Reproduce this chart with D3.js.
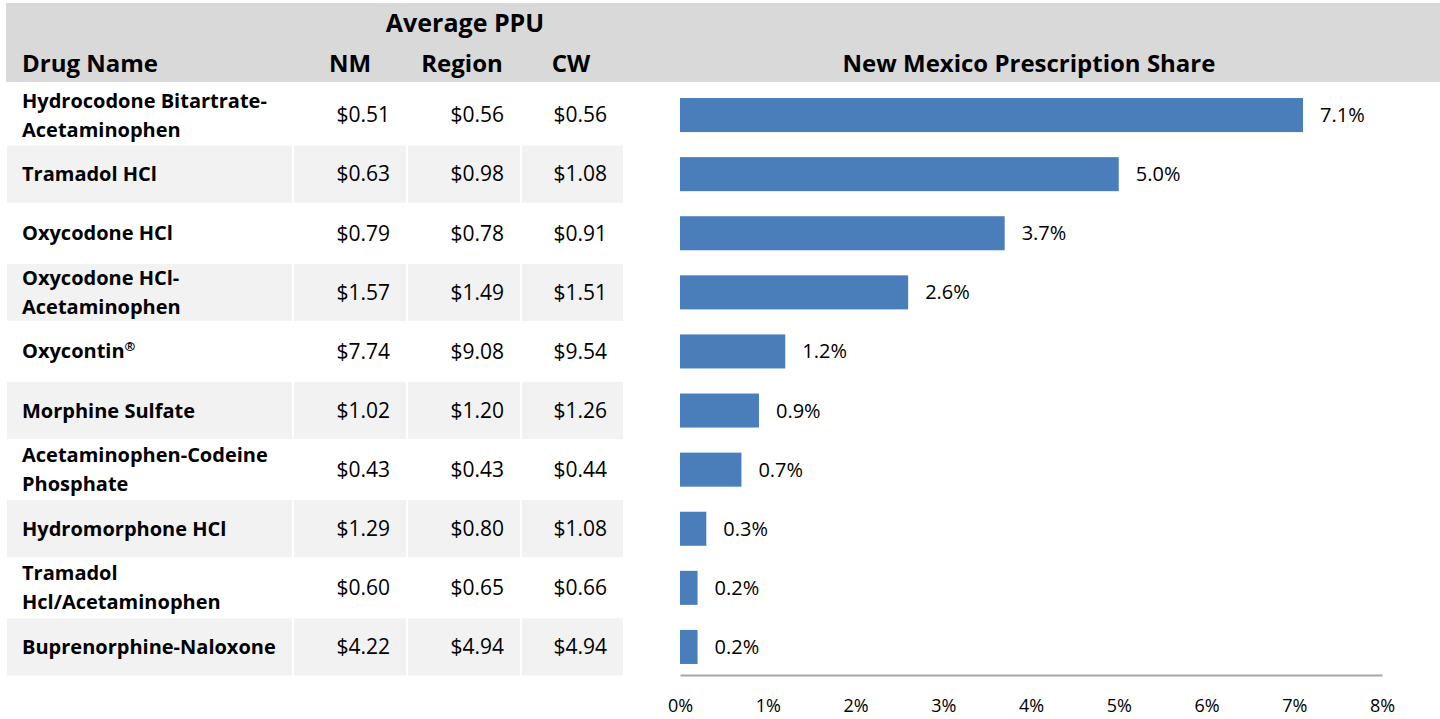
<!DOCTYPE html>
<html>
<head>
<meta charset="utf-8">
<script src="https://cdn.jsdelivr.net/npm/d3@7"></script>
<style>
  body { margin: 0; background: #fff; }
  svg { font-family: "Open Sans", sans-serif; }
</style>
</head>
<body>
<div id="chart"></div>
<script>
const drugs = [
  "Hydrocodone Bitartrate-Acetaminophen", "Tramadol HCl", "Oxycodone HCl",
  "Oxycodone HCl-Acetaminophen", "Oxycontin®", "Morphine Sulfate",
  "Acetaminophen-Codeine Phosphate", "Hydromorphone HCl",
  "Tramadol Hcl/Acetaminophen", "Buprenorphine-Naloxone"
];
const drugLines = [
  ["Hydrocodone Bitartrate-", "Acetaminophen"], ["Tramadol HCl"], ["Oxycodone HCl"],
  ["Oxycodone HCl-", "Acetaminophen"], ["Oxycontin®"], ["Morphine Sulfate"],
  ["Acetaminophen-Codeine", "Phosphate"], ["Hydromorphone HCl"],
  ["Tramadol", "Hcl/Acetaminophen"], ["Buprenorphine-Naloxone"]
];
const ppuNM     = [0.51, 0.63, 0.79, 1.57, 7.74, 1.02, 0.43, 1.29, 0.60, 4.22];
const ppuRegion = [0.56, 0.98, 0.78, 1.49, 9.08, 1.20, 0.43, 0.80, 0.65, 4.94];
const ppuCW     = [0.56, 1.08, 0.91, 1.51, 9.54, 1.26, 0.44, 1.08, 0.66, 4.94];
const share     = [7.1, 5.0, 3.7, 2.6, 1.2, 0.9, 0.7, 0.3, 0.2, 0.2];
const shareTicks = [0, 1, 2, 3, 4, 5, 6, 7, 8];

const W = 1440, H = 719;
const svg = d3.select("#chart").append("svg")
  .attr("width", W).attr("height", H);

// header band
svg.append("rect")
  .attr("x", 6).attr("y", 3).attr("width", W - 6).attr("height", 79)
  .attr("fill", "#d9d9d9");

// table columns (left edge, right edge)
const cols = [
  { x0: 7, x1: 292 },
  { x0: 294, x1: 406, values: ppuNM, head: "NM", cx: 350 },
  { x0: 408, x1: 520, values: ppuRegion, head: "Region", cx: 462 },
  { x0: 522, x1: 623, values: ppuCW, head: "CW", cx: 571 }
];

svg.append("text")
  .attr("x", 465).attr("y", 32)
  .attr("text-anchor", "middle")
  .attr("font-size", 25).attr("font-weight", "bold")
  .text("Average PPU");

svg.append("text")
  .attr("x", 22).attr("y", 72)
  .attr("font-size", 24).attr("font-weight", "bold")
  .text("Drug Name");

cols.slice(1).forEach(c => {
  svg.append("text")
    .attr("x", c.cx).attr("y", 72)
    .attr("text-anchor", "middle")
    .attr("font-size", 24).attr("font-weight", "bold")
    .text(c.head);
});

svg.append("text")
  .attr("x", 1029).attr("y", 72)
  .attr("text-anchor", "middle")
  .attr("font-size", 24).attr("font-weight", "bold")
  .text("New Mexico Prescription Share");

// rows
const y = d3.scaleBand().domain(drugs).range([85.5, 676.5]);
const fmt = d3.format("$.2f");

const rows = svg.selectAll(".row")
  .data(drugs)
  .enter().append("g")
  .attr("class", "row")
  .attr("transform", d => `translate(0,${y(d)})`);

rows.each(function(d, i) {
  const g = d3.select(this);
  if (i % 2 === 1) {
    cols.forEach(c => {
      g.append("rect")
        .attr("x", c.x0).attr("y", 1)
        .attr("width", c.x1 - c.x0).attr("height", y.bandwidth() - 2)
        .attr("fill", "#f2f2f2");
    });
  }
  const mid = y.bandwidth() / 2;
  const lines = drugLines[i];
  const lh = 29;
  lines.forEach((t, j) => {
    const txt = g.append("text")
      .attr("x", 22)
      .attr("y", mid + (j - (lines.length - 1) / 2) * lh)
      .attr("dy", "0.35em")
      .attr("font-size", 20).attr("font-weight", "bold");
    if (t.endsWith("®")) {
      txt.append("tspan").text(t.slice(0, -1));
      txt.append("tspan").attr("font-size", 13).attr("dy", -7).text("®");
    } else {
      txt.text(t);
    }
  });
  cols.slice(1).forEach(c => {
    g.append("text")
      .attr("x", c.x1 - 16)
      .attr("y", mid)
      .attr("dy", "0.35em")
      .attr("text-anchor", "end")
      .attr("font-size", 21)
      .text(fmt(c.values[i]));
  });
});

// bar chart
const x = d3.scaleLinear().domain([0, 8]).range([680, 1382]);
const yb = d3.scaleBand().domain(drugs).range([85.5, 676.5])
  .paddingInner(0.424).paddingOuter(0.212);

svg.selectAll(".bar")
  .data(drugs)
  .enter().append("rect")
  .attr("class", "bar")
  .attr("x", x(0))
  .attr("y", d => yb(d))
  .attr("width", (d, i) => x(share[i]) - x(0))
  .attr("height", yb.bandwidth())
  .attr("fill", "#4a7ebb");

svg.selectAll(".val")
  .data(drugs)
  .enter().append("text")
  .attr("class", "val")
  .attr("x", (d, i) => x(share[i]) + 17)
  .attr("y", d => yb(d) + yb.bandwidth() / 2)
  .attr("dy", "0.35em")
  .attr("font-size", 20)
  .text((d, i) => share[i].toFixed(1) + "%");

const axis = svg.append("g")
  .attr("transform", "translate(0,675)")
  .call(d3.axisBottom(x).tickValues(shareTicks)
    .tickFormat(d => d + "%").tickSize(0).tickPadding(24));
axis.select(".domain").attr("stroke", "#a6a6a6").attr("stroke-width", 2);
axis.selectAll("text")
  .attr("font-size", 18).attr("fill", "#000")
  .style("font-family", "'Open Sans', sans-serif");
</script>
</body>
</html>
